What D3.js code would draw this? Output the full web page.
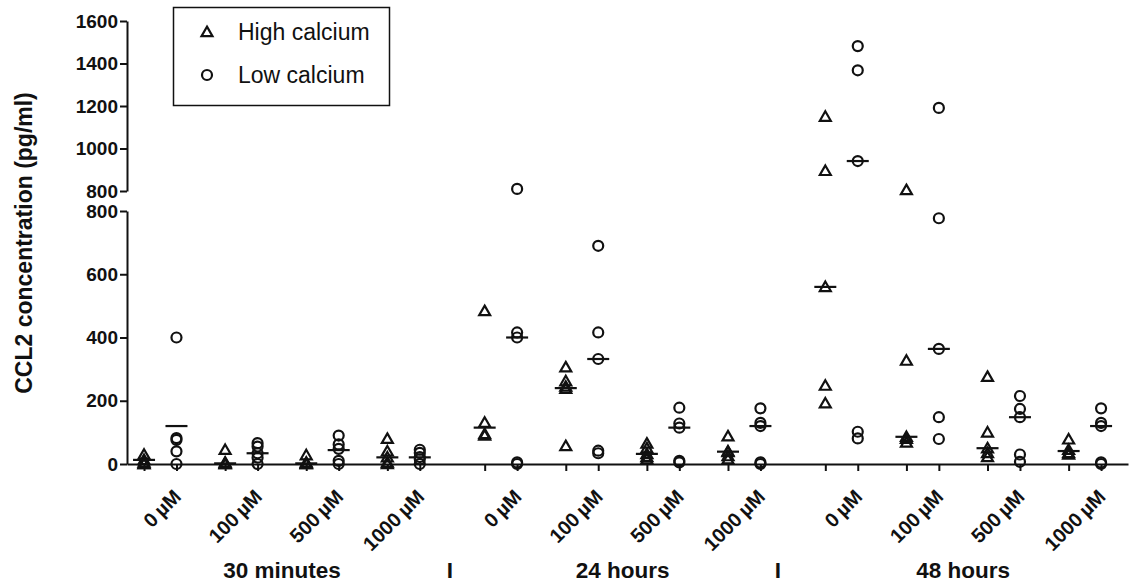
<!DOCTYPE html>
<html>
<head>
<meta charset="utf-8">
<script src="https://cdn.jsdelivr.net/npm/d3@7.9.0/dist/d3.min.js"></script>
<style>
  body { margin: 0; background: #fff; }
  svg { display: block; font-family: "Liberation Sans", Arial, sans-serif; }
  .axis path, .axis line { stroke: #111; stroke-width: 2; }
</style>
</head>
<body>
<svg id="chart" width="1134" height="583"></svg>
<script>
// data, per time group -> per dose -> replicate values
const groups = ['30 minutes', '24 hours', '48 hours'];
const doses = ['0\u2009µM', '100\u2009µM', '500\u2009µM', '1000\u2009µM'];
const series = ['High calcium', 'Low calcium'];

const highCalcium = [
  [[30, 13, 5, 0, 0], [45, 5, 2, 0, 0], [28, 5, 2, 0, 0], [80, 40, 21, 5, 0]],
  [[484, 131, 95, 90], [306, 262, 245, 238, 57], [65, 50, 32, 22, 15], [88, 40, 38, 25, 15]],
  [[1150, 895, 560, 248, 192], [805, 327, 86, 80, 68], [276, 100, 50, 35, 22], [78, 45, 35, 30]]
];
const lowCalcium = [
  [[400, 82, 76, 40, 0], [66, 55, 34, 20, 0], [90, 62, 48, 10, 0], [45, 35, 22, 15, 0]],
  [[810, 416, 400, 5, 0], [690, 416, 332, 42, 34], [178, 128, 115, 10, 5], [176, 130, 120, 5, 0]],
  [[1482, 1368, 941, 102, 81], [1191, 777, 364, 148, 79], [215, 174, 148, 30, 7], [176, 130, 120, 5, 0]]
];
// horizontal bars (group summary)
const highMedian = [[13, 2, 2, 21], [115, 240, 32, 39], [560, 86, 50, 41]];
const lowMedian = [[120, 34, 44, 21], [400, 332, 115, 120], [941, 364, 148, 120]];

const lowTicks = [0, 200, 400, 600, 800];
const highTicks = [800, 1000, 1200, 1400, 1600];

const svg = d3.select('#chart');
const ink = '#111';

// slot index: each group takes 21 units, each dose 5, high/low 2 apart
const slot = (g, d, s) => g * 21 + d * 5 + s * 2;

const x = d3.scaleLinear().domain([-1.05, 60.66]).range([127, 1128]);
const yLow = d3.scaleLinear().domain([0, 800]).range([464, 211]);
const yHigh = d3.scaleLinear().domain([800, 1600]).range([191, 21]);
const y = (v) => (v <= 800 ? yLow(v) : yHigh(v));

function styleAxis(g) {
  g.selectAll('text')
    .attr('font-size', 19)
    .attr('font-weight', 'bold')
    .attr('font-family', '"Liberation Sans", Arial, sans-serif')
    .attr('fill', ink);
}

// y axes (broken)
[[yLow, lowTicks], [yHigh, highTicks]].forEach(([sc, ticks]) => {
  svg.append('g')
    .attr('class', 'axis')
    .attr('transform', `translate(${x.range()[0]},0)`)
    .call(d3.axisLeft(sc).tickValues(ticks).tickFormat(d3.format('d'))
      .tickSize(7).tickSizeOuter(0).tickPadding(2))
    .call(styleAxis);
});

// x axis with a tick under every column
const slots = [];
groups.forEach((g, gi) => doses.forEach((d, di) => series.forEach((s, si) => slots.push(slot(gi, di, si)))));

svg.append('g')
  .attr('class', 'axis')
  .attr('transform', `translate(0,${yLow(0)})`)
  .call(d3.axisBottom(x).tickValues(slots).tickSize(7).tickSizeOuter(0).tickFormat(''));

// y axis title
svg.append('text')
  .attr('transform', 'translate(32,243) rotate(-90)')
  .attr('text-anchor', 'middle')
  .attr('font-size', 23)
  .attr('font-weight', 'bold')
  .attr('fill', ink)
  .text('CCL2 concentration (pg/ml)');

// dose labels, rotated
groups.forEach((g, gi) => {
  doses.forEach((d, di) => {
    const cx = (x(slot(gi, di, 0)) + x(slot(gi, di, 1))) / 2 + 22;
    svg.append('text')
      .attr('transform', `translate(${cx},498) rotate(-45)`)
      .attr('text-anchor', 'end')
      .attr('font-size', 20)
      .attr('font-weight', 'bold')
      .attr('fill', ink)
      .text(d);
  });
  svg.append('text')
    .attr('x', (x(slot(gi, 0, 0)) + x(slot(gi, 3, 1))) / 2)
    .attr('y', 578)
    .attr('text-anchor', 'middle')
    .attr('font-size', 22.5)
    .attr('font-weight', 'bold')
    .attr('fill', ink)
    .text(g);
});

// separators between group labels
[450, 778].forEach((sx) => {
  svg.append('text')
    .attr('x', sx)
    .attr('y', 578)
    .attr('text-anchor', 'middle')
    .attr('font-size', 22.5)
    .attr('font-weight', 'bold')
    .attr('fill', ink)
    .text('I');
});

const tri = d3.symbol().type(d3.symbolTriangle).size(52);
const marks = svg.append('g');

function drawPoints(data, si) {
  data.forEach((gr, gi) => gr.forEach((vals, di) => {
    const px = x(slot(gi, di, si));
    vals.forEach((v) => {
      if (si === 0) {
        marks.append('path')
          .attr('d', tri)
          .attr('transform', `translate(${px},${y(v) + 1})`)
          .attr('fill', 'none')
          .attr('stroke', ink)
          .attr('stroke-width', 2.2);
      } else {
        marks.append('circle')
          .attr('cx', px)
          .attr('cy', y(v))
          .attr('r', 5)
          .attr('fill', 'none')
          .attr('stroke', ink)
          .attr('stroke-width', 2.2);
      }
    });
  }));
}

function drawBars(data, si) {
  data.forEach((gr, gi) => gr.forEach((v, di) => {
    const px = x(slot(gi, di, si));
    marks.append('line')
      .attr('x1', px - 11)
      .attr('x2', px + 11)
      .attr('y1', y(v))
      .attr('y2', y(v))
      .attr('stroke', ink)
      .attr('stroke-width', 2.2);
  }));
}

drawPoints(highCalcium, 0);
drawPoints(lowCalcium, 1);
drawBars(highMedian, 0);
drawBars(lowMedian, 1);

// legend
const legend = svg.append('g');
legend.append('rect')
  .attr('x', 173.5).attr('y', 7.5)
  .attr('width', 216).attr('height', 98)
  .attr('fill', '#fff')
  .attr('stroke', ink)
  .attr('stroke-width', 1.5);

series.forEach((s, i) => {
  const ly = 32 + i * 43;
  if (i === 0) {
    legend.append('path')
      .attr('d', tri)
      .attr('transform', `translate(207,${ly + 1})`)
      .attr('fill', 'none').attr('stroke', ink).attr('stroke-width', 2.2);
  } else {
    legend.append('circle')
      .attr('cx', 207).attr('cy', ly).attr('r', 5)
      .attr('fill', 'none').attr('stroke', ink).attr('stroke-width', 2.2);
  }
  legend.append('text')
    .attr('x', 238)
    .attr('y', ly + 8)
    .attr('font-size', 23)
    .attr('fill', ink)
    .text(s);
});
</script>
</body>
</html>
